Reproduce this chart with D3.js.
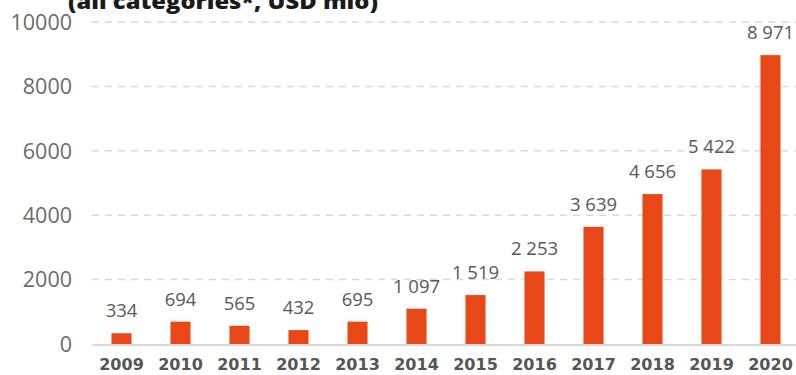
<!DOCTYPE html>
<html><head><meta charset="utf-8">
<script src="https://cdn.jsdelivr.net/npm/d3@7"></script>
<style>body{margin:0;background:#fff;} svg{display:block;}</style>
</head><body>
<svg id="c" width="796" height="375"></svg>
<script>
const years = ["2009","2010","2011","2012","2013","2014","2015","2016","2017","2018","2019","2020"];
const values = [334,694,565,432,695,1097,1519,2253,3639,4656,5422,8971];
const yTicks = [0,2000,4000,6000,8000,10000];
const title = "(all categories*, USD mio)";

const svg = d3.select("#c");
const x = d3.scaleBand().domain(years).range([92,800]).paddingInner(0.66).paddingOuter(0.33);
const y = d3.scaleLinear().domain([0,10000]).range([344,22]);
const fmt = v => d3.format(",")(v).replace(/,/g, " ");

// grid
svg.append("g").selectAll("line").data(yTicks.filter(d=>d>0)).join("line")
  .attr("x1",92).attr("x2",796).attr("y1",d=>y(d)).attr("y2",d=>y(d))
  .attr("stroke","#d9d9d9").attr("stroke-width",1.5).attr("stroke-dasharray","7,6");

// y tick labels
svg.append("g").selectAll("text").data(yTicks).join("text")
  .attr("x",72).attr("y",d=>y(d)).attr("dy","0.36em").attr("text-anchor","end")
  .attr("font-family","'Open Sans', sans-serif").attr("font-size",21.5).attr("fill","#6b6b6b")
  .text(d=>d);

// bars
svg.append("g").selectAll("rect").data(values).join("rect")
  .attr("x",(d,i)=>x(years[i])).attr("width",x.bandwidth())
  .attr("y",d=>y(d)).attr("height",d=>y(0)-y(d))
  .attr("fill","#e84817");

// zero line
svg.append("line").attr("x1",92).attr("x2",796).attr("y1",y(0)+1).attr("y2",y(0)+1)
  .attr("stroke","#d9d9d9").attr("stroke-width",2);

// value labels
svg.append("g").selectAll("text").data(values).join("text")
  .attr("x",(d,i)=>x(years[i])+x.bandwidth()/2).attr("y",d=>y(d)-16)
  .attr("text-anchor","middle").attr("font-family","'Open Sans', sans-serif")
  .attr("font-size",18.5).attr("fill","#595959")
  .text(d=>fmt(d));

// x labels
svg.append("g").selectAll("text").data(years).join("text")
  .attr("x",d=>x(d)+x.bandwidth()/2).attr("y",370)
  .attr("text-anchor","middle").attr("font-family","'DejaVu Sans', sans-serif")
  .attr("font-weight","bold").attr("font-size",16).attr("fill","#555")
  .text(d=>d);

// title (clipped at top, as in the reference)
svg.append("text").attr("x",68).attr("y",9)
  .attr("font-family","'Open Sans', sans-serif").attr("font-weight","800").attr("font-size",21)
  .attr("textLength",310).attr("lengthAdjust","spacingAndGlyphs")
  .attr("fill","#1a1a1a").text(title);
</script>
</body></html>
